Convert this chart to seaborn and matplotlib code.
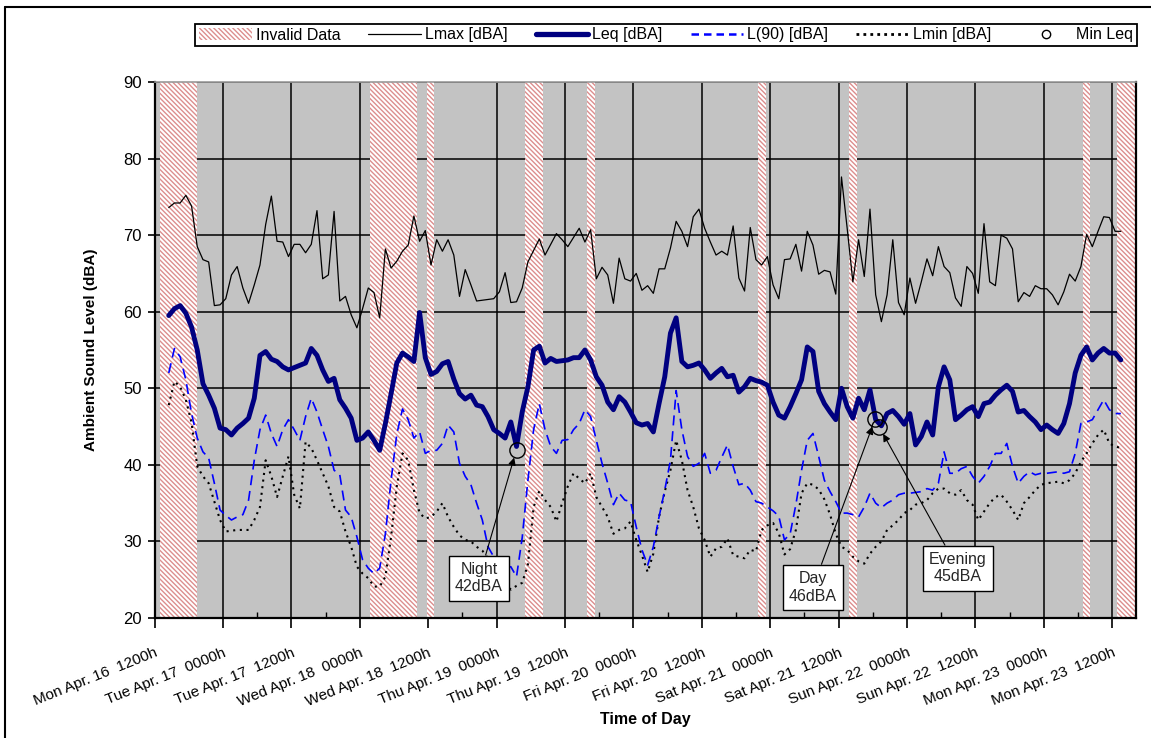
import numpy as np
import pandas as pd
import matplotlib
matplotlib.use("Agg")
import matplotlib.pyplot as plt
from matplotlib.patches import Patch
from matplotlib.lines import Line2D
import seaborn as sns

# ---------------- data ----------------
# hourly samples, hours after Mon Apr. 16 1200h
first_sample_hour = 2.5
lmax = [73.6, 74.2, 74.2, 75.2, 73.8, 68.5, 66.8, 66.5, 60.8, 60.9,
        61.7, 64.8, 65.9, 63.1, 61.1, 63.5, 66.1, 71.4, 75.1, 69.2,
        69.1, 67.2, 68.8, 68.8, 67.7, 68.8, 73.2, 64.3, 64.8, 73.1,
        61.4, 62.0, 59.6, 57.9, 60.4, 63.1, 62.5, 59.2, 68.2, 65.7,
        66.6, 67.9, 68.7, 72.5, 69.2, 70.6, 66.1, 69.4, 67.9, 69.4,
        67.4, 62.0, 65.5, 63.5, 61.4, 61.5, 61.6, 61.7, 62.6, 65.1,
        61.2, 61.3, 63.1, 66.5, 68.0, 69.5, 67.4, 68.8, 70.2, 69.4,
        68.5, 69.7, 70.9, 69.1, 70.7, 64.3, 65.8, 64.8, 61.1, 67.0,
        64.3, 64.0, 65.0, 62.8, 63.4, 62.4, 65.6, 65.6, 68.3, 71.8,
        70.5, 68.5, 72.4, 73.4, 70.9, 69.1, 67.4, 67.9, 67.4, 71.2,
        64.4, 62.7, 71.0, 66.8, 66.1, 67.2, 63.5, 61.7, 66.8, 66.9,
        68.8, 65.3, 70.5, 68.7, 64.9, 65.4, 65.2, 62.3, 77.6, 70.9,
        63.9, 69.4, 64.6, 73.4, 62.2, 58.7, 62.2, 69.4, 61.2, 59.6,
        64.4, 61.1, 63.9, 66.9, 64.7, 68.5, 65.9, 65.1, 61.8, 60.7,
        65.9, 65.0, 62.4, 71.5, 63.9, 63.4, 70.0, 69.6, 68.2, 61.3,
        62.5, 62.0, 63.4, 63.0, 63.0, 62.2, 60.9, 62.6, 64.9, 64.0,
        65.9, 70.1, 68.5, 70.5, 72.4, 72.3, 70.5, 70.5]
leq = [59.5, 60.4, 60.8, 59.8, 58.0, 55.0, 50.6, 49.1, 47.4, 44.8,
       44.6, 43.9, 44.8, 45.4, 46.1, 48.7, 54.3, 54.8, 53.8, 53.5,
       52.8, 52.4, 52.7, 53.0, 53.3, 55.2, 54.3, 52.4, 50.9, 51.3,
       48.5, 47.4, 46.1, 43.2, 43.5, 44.3, 43.2, 41.9, 45.4, 49.3,
       53.3, 54.6, 54.1, 53.5, 59.9, 54.0, 51.8, 52.2, 53.2, 53.5,
       51.2, 49.3, 48.6, 49.1, 47.8, 47.6, 46.3, 44.6, 44.1, 43.5,
       45.6, 42.4, 46.9, 50.2, 55.0, 55.5, 53.3, 53.9, 53.5, 53.6,
       53.7, 54.0, 54.0, 55.0, 53.7, 51.5, 50.4, 48.2, 47.2, 48.9,
       48.2, 46.9, 45.5, 45.2, 45.4, 44.3, 48.0, 51.5, 57.2, 59.2,
       53.5, 52.8, 53.0, 53.3, 52.4, 51.3, 52.0, 52.6, 51.5, 51.7,
       49.5, 50.2, 51.3, 51.0, 50.8, 50.4, 48.2, 46.5, 46.1, 47.6,
       49.3, 51.1, 55.4, 54.8, 49.6, 48.0, 46.9, 45.9, 50.0, 47.6,
       46.1, 48.7, 47.2, 49.8, 45.9, 45.1, 46.7, 47.1, 46.3, 45.3,
       46.7, 42.6, 43.7, 45.6, 43.9, 50.2, 52.8, 51.1, 45.9, 46.5,
       47.2, 47.6, 46.3, 48.0, 48.2, 49.1, 49.8, 50.4, 49.6, 46.9,
       47.1, 46.3, 45.6, 44.6, 45.2, 44.6, 44.1, 45.4, 48.0, 52.0,
       54.3, 55.4, 53.7, 54.6, 55.2, 54.6, 54.6, 53.7]
l90 = [52.0, 55.2, 54.1, 51.1, 46.7, 43.5, 41.7, 40.9, 37.6, 34.1,
       33.4, 32.8, 33.2, 33.5, 35.4, 40.6, 44.6, 46.5, 44.1, 42.4,
       44.6, 45.9, 44.6, 43.2, 46.3, 48.7, 46.9, 44.6, 42.4, 39.3,
       38.7, 34.1, 33.2, 30.6, 27.6, 26.5, 25.8, 26.5, 31.0, 38.0,
       44.0, 47.3, 45.9, 43.5, 44.3, 41.5, 41.9, 41.9, 42.8, 45.2,
       44.3, 40.2, 38.5, 37.4, 35.0, 32.8, 29.3, 28.0, 27.0, 26.5,
       26.7, 25.4, 30.5, 38.0, 44.6, 48.0, 44.6, 42.4, 41.5, 43.2,
       43.3, 44.6, 45.4, 47.2, 46.3, 43.2, 40.2, 37.6, 34.8, 36.3,
       35.4, 35.2, 31.9, 28.9, 26.9, 29.3, 33.2, 36.7, 40.6, 49.7,
       44.6, 41.1, 39.8, 40.2, 41.5, 38.9, 39.3, 41.0, 42.6, 39.8,
       37.4, 37.6, 36.7, 35.2, 35.0, 34.5, 34.0, 33.3, 30.2, 31.0,
       34.8, 39.3, 43.2, 44.1, 41.1, 38.0, 36.5, 35.2, 33.7, 33.7,
       33.5, 33.2, 34.5, 36.3, 35.0, 34.4, 35.0, 35.4, 36.1, 36.3,
       36.3, 36.4, 36.5, 36.9, 36.7, 37.6, 41.7, 38.9, 38.9, 39.5,
       39.8, 38.5, 37.6, 38.5, 39.8, 41.5, 41.5, 42.8, 39.8, 37.6,
       38.5, 39.1, 38.7, 38.9, 38.9, 39.0, 39.1, 38.9, 39.1, 41.5,
       45.4, 45.6, 45.9, 47.2, 48.5, 47.2, 46.7, 46.7]
lmin = [47.8, 50.9, 50.2, 48.5, 45.5, 39.8, 38.5, 37.6, 35.2, 32.8,
        31.3, 31.4, 31.5, 31.5, 31.5, 32.8, 34.5, 40.6, 38.5, 35.8,
        38.5, 41.1, 36.1, 34.3, 43.0, 42.2, 40.6, 38.9, 37.2, 34.5,
        33.9, 31.3, 29.3, 26.7, 25.8, 25.2, 24.1, 24.1, 25.4, 30.6,
        37.2, 41.5, 40.6, 36.7, 33.7, 33.0, 33.2, 33.9, 35.0, 33.2,
        31.9, 30.8, 30.2, 30.0, 29.3, 28.8, 27.8, 26.8, 25.8, 24.8,
        23.7, 24.2, 24.6, 27.0, 34.5, 36.6, 35.4, 34.5, 32.6, 35.0,
        37.2, 38.9, 38.2, 37.6, 38.9, 35.8, 34.5, 33.2, 31.0, 31.5,
        31.7, 32.6, 30.2, 28.2, 26.0, 28.4, 33.2, 36.5, 39.3, 43.2,
        40.6, 36.7, 34.5, 31.7, 30.2, 28.0, 29.1, 29.3, 30.4, 28.2,
        28.0, 27.8, 28.9, 28.7, 31.5, 32.1, 32.4, 31.1, 28.3, 29.0,
        31.5, 36.3, 37.6, 37.4, 36.8, 35.5, 33.5, 31.0, 29.3, 28.9,
        28.0, 27.4, 27.1, 28.4, 29.3, 30.0, 31.5, 32.1, 32.8, 33.7,
        34.1, 34.8, 35.0, 35.4, 36.3, 36.9, 36.9, 36.3, 36.1, 36.7,
        35.4, 34.8, 32.8, 33.9, 35.0, 35.8, 36.1, 35.2, 34.1, 32.8,
        35.0, 35.8, 36.7, 37.4, 37.6, 37.7, 37.8, 37.6, 38.0, 38.9,
        40.4, 41.5, 42.8, 43.9, 44.6, 42.8, 42.4, 42.2]

invalid_start = [1.0, 37.8, 47.8, 65.0, 75.8, 105.9, 121.9, 162.8, 168.9]
invalid_end = [7.4, 46.0, 49.1, 68.1, 77.3, 107.3, 123.2, 164.1, 171.9]

min_leq_period = ["Night", "Day", "Evening"]
min_leq_hour = [63.5, 126.4, 127.1]
min_leq_value = [42, 46, 45]

tick_labels = ["Mon Apr. 16  1200h", "Tue Apr. 17  0000h", "Tue Apr. 17  1200h",
               "Wed Apr. 18  0000h", "Wed Apr. 18  1200h", "Thu Apr. 19  0000h",
               "Thu Apr. 19  1200h", "Fri Apr. 20  0000h", "Fri Apr. 20  1200h",
               "Sat Apr. 21  0000h", "Sat Apr. 21  1200h", "Sun Apr. 22  0000h",
               "Sun Apr. 22  1200h", "Mon Apr. 23  0000h", "Mon Apr. 23  1200h"]

hours = first_sample_hour + np.arange(len(leq))
df = pd.DataFrame({"hours": hours, "Lmax": lmax, "Leq": leq, "L90": l90, "Lmin": lmin})

# ---------------- style ----------------
sns.set_theme(style="white")
plt.rcParams["font.family"] = ["Liberation Sans", "DejaVu Sans"]
plt.rcParams["hatch.linewidth"] = 1.0

W, H = 1151, 738
fig = plt.figure(figsize=(W / 100, H / 100), dpi=100)
fig.patch.set_facecolor("white")
x0, x1, y0, y1 = 154.5, 1136, 82, 618
ax = fig.add_axes([x0 / W, 1 - y1 / H, (x1 - x0) / W, (y1 - y0) / H])
ax.set_facecolor("#c3c3c3")

hatch_color = "#dc8e8e"
hatch = "\\" * 7
for s, e in zip(invalid_start, invalid_end):
    ax.axvspan(s, e, facecolor="white", edgecolor=hatch_color, hatch=hatch,
               linewidth=0, zorder=1)

sns.lineplot(data=df, x="hours", y="Lmax", ax=ax, color="black", lw=0.9,
             errorbar=None, legend=False, zorder=3)
sns.lineplot(data=df, x="hours", y="Lmin", ax=ax, color="black", lw=1.5,
             linestyle=(0, (1, 2.2)), errorbar=None, legend=False, zorder=3)
sns.lineplot(data=df, x="hours", y="L90", ax=ax, color="#0000ff", lw=1.2,
             linestyle=(0, (6, 3.5)), errorbar=None, legend=False, zorder=4)
sns.lineplot(data=df, x="hours", y="Leq", ax=ax, color="#000080", lw=3.5,
             solid_joinstyle="round", solid_capstyle="round",
             errorbar=None, legend=False, zorder=5)

ax.plot(min_leq_hour, min_leq_value, linestyle="none", marker="o", ms=11,
        mfc="none", mec="black", mew=1.0, zorder=6)

text_pos = {"Night": (56.9, 25.2), "Day": (115.5, 24.0), "Evening": (140.9, 26.5)}
for name, h, v in zip(min_leq_period, min_leq_hour, min_leq_value):
    ax.annotate(f"{name}\n{v}dBA", xy=(h, v), xytext=text_pos[name],
                textcoords="data", ha="center", va="center", fontsize=11.5,
                linespacing=1.2, zorder=7,
                bbox=dict(boxstyle="square,pad=0.4", fc="white", ec="black", lw=1.0),
                arrowprops=dict(arrowstyle="-|>", color="black", lw=0.8,
                                shrinkA=0, shrinkB=6, mutation_scale=11))

# ---------------- axes ----------------
ax.set_xlim(0, (x1 - x0) / 5.701)
ax.set_ylim(20, 90)
ax.set_xticks(np.arange(0, 169, 12))
ax.set_xticks(np.arange(6, 169, 12), minor=True)
ax.set_xticklabels(tick_labels, rotation=22, ha="right", rotation_mode="anchor",
                   va="top")
ax.set_yticks(np.arange(20, 91, 10))
ax.set_axisbelow(True)
ax.grid(True, which="major", color="black", lw=1.1)
ax.grid(False, which="minor")

ax.tick_params(axis="x", which="major", bottom=True, direction="out", length=7,
               width=1.2, color="black", labelsize=11, labelcolor="black", pad=13)
ax.tick_params(axis="x", which="minor", bottom=True, direction="in", length=4,
               width=1.0, color="black")
ax.tick_params(axis="y", left=True, direction="out", length=5, width=1.2,
               color="black", labelsize=12, labelcolor="black", pad=4)

for side in ["left", "bottom", "right"]:
    ax.spines[side].set_color("black")
    ax.spines[side].set_linewidth(1.6)
ax.spines["top"].set_color("#9a9a9a")
ax.spines["top"].set_linewidth(1.2)

ax.set_xlabel("Time of Day", fontsize=11.5, fontweight="bold", color="black")
ax.set_ylabel("Ambient Sound Level (dBA)", fontsize=11, fontweight="bold", color="black")
ax.xaxis.set_label_coords(0.5, -0.176)
ax.yaxis.set_label_coords(-0.058, 0.5)

# ---------------- legend ----------------
handles = [
    Patch(facecolor="white", edgecolor=hatch_color, hatch=hatch, linewidth=0),
    Line2D([], [], color="black", lw=0.9),
    Line2D([], [], color="#000080", lw=3.8, solid_capstyle="round"),
    Line2D([], [], color="#0000ff", lw=1.8, linestyle=(0, (3, 2))),
    Line2D([], [], color="black", lw=2.0, linestyle=(0, (1, 1.5))),
    Line2D([], [], linestyle="none", marker="o", ms=6, mfc="none", mec="black", mew=1.0),
]
labels = ["Invalid Data", "Lmax [dBA]", "Leq [dBA]", "L(90) [dBA]", "Lmin [dBA]", "Min Leq"]
leg = fig.legend(handles, labels, ncol=6, loc="center", mode="expand",
                 bbox_to_anchor=(195 / W, 1 - 49 / H, (1137 - 195) / W, 28 / H),
                 frameon=True, fancybox=False, framealpha=1, edgecolor="black",
                 fontsize=11.5, handlelength=3.3, handletextpad=0.25,
                 borderaxespad=0, borderpad=0.25)
leg.get_frame().set_linewidth(1.3)
for t in leg.get_texts():
    t.set_color("black")

# page frame lines
fig.add_artist(Line2D([5 / W, 1], [1 - 7 / H, 1 - 7 / H], transform=fig.transFigure,
                      color="black", lw=1.5))
fig.add_artist(Line2D([5 / W, 5 / W], [0, 1 - 7 / H], transform=fig.transFigure,
                      color="black", lw=1.5))

fig.savefig("out.png", dpi=100)
